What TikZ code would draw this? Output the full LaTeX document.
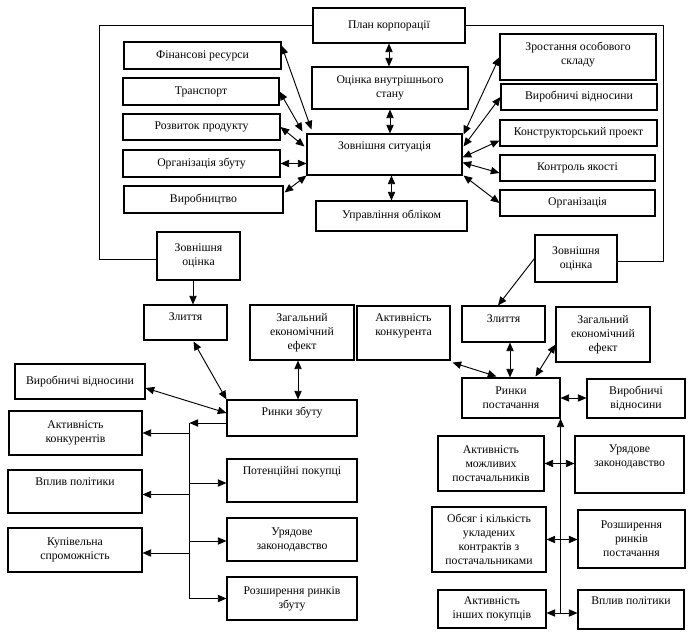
\documentclass[tikz,border=0pt]{standalone}
\usepackage{fontspec}
\setmainfont{Liberation Serif}
\usetikzlibrary{arrows.meta,calc}
\newcommand\bx[7][]{%
  \pgfmathsetmacro\bxw{(#5-#3)*0.75}%
  \pgfmathsetmacro\bxh{(#6-#4)*0.75}%
  \node[box,minimum width=\bxw pt,minimum height=\bxh pt,#1] (#2) at ({(#3+#5)/2},{(#4+#6)/2}) {#7};}
\newcommand\up[2]{\raisebox{#1}[\height][\depth]{\begin{tabular}{@{}c@{}}#2\end{tabular}}}
\begin{document}
\begin{tikzpicture}[x=0.75pt,y=-0.75pt,
  box/.style={draw,line width=0.8pt,inner sep=1pt,align=center,font=\fontsize{8.8}{10.5}\selectfont},
  dbl/.style={{Triangle[length=6.5pt,width=5.5pt]}-{Triangle[length=6.5pt,width=5.5pt]},line width=0.7pt},
  one/.style={-{Triangle[length=6.5pt,width=5.5pt]},line width=0.7pt},
  frame/.style={line width=0.7pt}]
\useasboundingbox (0,0) rectangle (696,641);
% top part
\bx{plan}{313}{8}{465}{43}{План корпорації}
\bx{fin}{124}{42}{281}{69}{Фінансові ресурси}
\bx{trans}{123}{78}{279}{105}{Транспорт}
\bx{rozv}{123}{114}{280}{140}{Розвиток продукту}
\bx{orgz}{123}{150}{280}{177}{Організація збуту}
\bx{vyrob}{124}{186}{283}{213}{Виробництво}
\bx{otsinka}{312}{67}{468}{109}{Оцінка внутрішнього\\стану}
\bx{zovsit}{307}{134}{462}{175}{\up{5.6pt}{Зовнішня ситуація}}
\bx{uprav}{316}{201}{467}{231}{Управління обліком}
\bx{zrost}{500}{34}{656}{80}{\up{2pt}{Зростання особового\\складу}}
\bx{vidn1}{501}{84}{657}{110}{Виробничі відносини}
\bx{konstr}{500}{120}{657}{146}{Конструкторський проект}
\bx{kontrol}{500}{155}{655}{181}{Контроль якості}
\bx{org}{500}{190}{655}{216}{Організація}
% left lower
\bx{zo1}{157}{232}{240}{280}{Зовнішня\\оцінка}
\bx{zl1}{144}{305}{227}{340}{\up{3.4pt}{Злиття}}
\bx{zag1}{250}{305}{354}{360}{Загальний\\економічний\\ефект}
\bx{vidn2}{15}{364}{145}{399}{Виробничі відносини}
\bx{rz}{227}{400}{357}{436}{\up{3.7pt}{Ринки збуту}}
\bx{akt1}{9}{411}{142}{455}{Активність\\конкурентів}
\bx{vplyv1}{8}{470}{142}{513}{\up{6.4pt}{Вплив політики}}
\bx{kup}{8}{528}{142}{572}{Купівельна\\спроможність}
\bx{pot}{227}{459}{357}{502}{\up{6.4pt}{Потенційні покупці}}
\bx{ur1}{227}{518}{357}{561}{Урядове\\законодавство}
\bx{rozsh1}{227}{577}{357}{620}{Розширення ринків\\збуту}
% right lower
\bx{zo2}{535}{235}{617}{282}{Зовнішня\\оцінка}
\bx{zl2}{462}{306}{545}{342}{\up{3pt}{Злиття}}
\bx{aktk}{357}{306}{450}{360}{\up{5.2pt}{Активність\\конкурента}}
\bx{zag2}{556}{307}{650}{362}{Загальний\\економічний\\ефект}
\bx{rp}{462}{378}{560}{418}{Ринки\\постачання}
\bx{vidn3}{587}{379}{685}{418}{Виробничі\\відносини}
\bx{aktm}{438}{436}{544}{491}{Активність\\можливих\\постачальників}
\bx{ur2}{575}{436}{684}{493}{\up{6pt}{Урядове\\законодавство}}
\bx{obs}{432}{507}{546}{572}{Обсяг і кількість\\укладених\\контрактів з\\постачальниками}
\bx{rozsh2}{578}{510}{685}{568}{Розширення\\ринків\\постачання}
\bx{akti}{438}{590}{546}{628}{Активність\\інших покупців}
\bx{vplyv2}{578}{590}{684}{629}{\up{5.6pt}{Вплив політики}}
% frame
\draw[frame] (plan.west) -| ($(zo1.west)+(-57,3)$) -- ($(zo1.west)+(0,3)$);
\draw[frame] (plan.east) -| ($(zo2.east)+(46,2.5)$) -- ($(zo2.east)+(0,2.5)$);
% verticals
\draw[dbl] (plan.south) -- (plan.south |- otsinka.north);
\draw[dbl] (otsinka.south) -- (otsinka.south |- zovsit.north);
\draw[dbl] (uprav.north |- zovsit.south) -- (uprav.north);
% left group
\draw[dbl] ($(fin.north east)+(0,4)$) -- ($(zovsit.north west)+(5,-4)$);
\draw[dbl] (trans.east) -- ($(zovsit.north west)+(-4,-2)$);
\draw[dbl] (rozv.east) -- ($(zovsit.north west)+(-2,13)$);
\draw[dbl] (orgz.east) -- (orgz.east -| zovsit.west);
\draw[dbl] ($(vyrob.north east)+(1,7)$) -- (zovsit.south west);
% right group
\draw[dbl] ($(zovsit.north east)+(1,1)$) -- (zrost.west);
\draw[dbl] ($(zovsit.north east)+(1,13)$) -- (vidn1.west);
\draw[dbl] ($(zovsit.east)+(0,3)$) -- ($(konstr.south west)+(0,-6)$);
\draw[dbl] ($(zovsit.east)+(0,8)$) -- ($(kontrol.west)+(0,5)$);
\draw[dbl] ($(zovsit.south east)+(1,0)$) -- (org.west);
% left lower connectors
\draw[one] ($(zo1.south)+(-5.5,0)$) -- ($(zl1.north)+(7.5,0)$);
\draw[dbl] ($(zl1.south)+(8,1)$) -- (rz.north west);
\draw[dbl] ($(zag1.south)+(-4,0)$) -- ($(rz.north)+(6,0)$);
\draw[dbl] ($(vidn2.east)+(0,6.5)$) -- ($(rz.west)+(0,-5)$);
\coordinate (t1) at ($(rz.west)+(-37,5)$);
\draw[one] ($(rz.west)+(0,5)$) -- (t1);
\draw[frame] (t1) -- (t1 |- rozsh1.west);
\draw[one] (t1 |- akt1.east) -- (akt1.east);
\draw[one] ($(t1 |- vplyv1.east)+(0,3)$) -- ($(vplyv1.east)+(0,3)$);
\draw[one] ($(t1 |- kup.east)+(0,3)$) -- ($(kup.east)+(0,3)$);
\draw[one] ($(t1 |- pot.west)+(0,2.5)$) -- ($(pot.west)+(0,2.5)$);
\draw[one] ($(t1 |- ur1.west)+(0,1.5)$) -- ($(ur1.west)+(0,1.5)$);
\draw[one] (t1 |- rozsh1.west) -- (rozsh1.west);
% right lower connectors
\draw[one] (zo2.west) -- ($(zl2.north)+(-5.5,0)$);
\draw[dbl] ($(aktk.south east)+(2,2)$) -- ($(rp.north west)+(35,-1)$);
\draw[dbl] ($(zl2.south)+(6.5,0)$) -- ($(rp.north)+(-1,0)$);
\draw[dbl] ($(zag2.west)+(0,10)$) -- ($(rp.north east)+(-25,-1)$);
\draw[dbl] (rp.east) -- (rp.east -| vidn3.west);
\coordinate (t3) at ($(akti.east)+(14,4)$);
\draw[one] (t3) -- (rp.south east);
\draw[dbl] (aktm.east) -- (aktm.east -| ur2.west);
\draw[dbl] (obs.east) -- (obs.east -| rozsh2.west);
\draw[dbl] ($(akti.east)+(0,4)$) -- ($(akti.east -| vplyv2.west)+(0,4)$);
\end{tikzpicture}
\end{document}
